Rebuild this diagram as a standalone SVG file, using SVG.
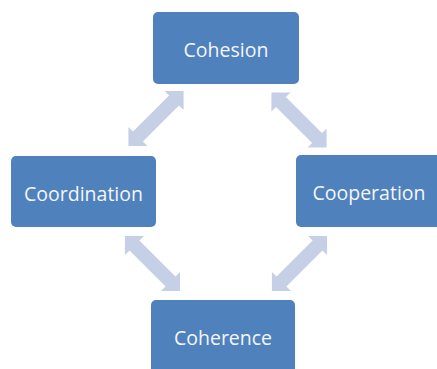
<svg xmlns="http://www.w3.org/2000/svg" width="437" height="369" viewBox="0 0 437 369">
<defs>
<style>
.box{fill:#4f81bd;}
.lbl{font-family:"Open Sans","Liberation Sans",sans-serif;font-size:19.5px;fill:#f4f6fa;text-anchor:middle;dominant-baseline:central;}
.arr{fill:#c5cfe6;}
</style>
<path id="dbl" d="M -39,0 L -25.5,-13.5 L -25.5,-7 L 25.5,-7 L 25.5,-13.5 L 39,0 L 25.5,13.5 L 25.5,7 L -25.5,7 L -25.5,13.5 Z"/>
</defs>
<rect width="437" height="369" fill="#ffffff"/>
<g id="connectors" class="arr">
<use href="#dbl" transform="translate(156,118.5) rotate(-45)"/>
<use href="#dbl" transform="translate(299,120) rotate(45)"/>
<use href="#dbl" transform="translate(152.5,263.5) rotate(45)"/>
<use href="#dbl" transform="translate(299.5,263.5) rotate(-45)"/>
</g>
<g id="cohesion">
<rect class="box" x="153" y="12" width="146" height="72" rx="5"/>
<text class="lbl" x="226" y="49">Cohesion</text>
</g>
<g id="coordination">
<rect class="box" x="11" y="156" width="145" height="71" rx="5"/>
<text class="lbl" x="83.5" y="193">Coordination</text>
</g>
<g id="cooperation">
<rect class="box" x="296" y="155" width="146" height="72" rx="5"/>
<text class="lbl" x="369" y="192">Cooperation</text>
</g>
<g id="coherence">
<rect class="box" x="151" y="300" width="144" height="75" rx="5"/>
<text class="lbl" x="223" y="337">Coherence</text>
</g>
</svg>
